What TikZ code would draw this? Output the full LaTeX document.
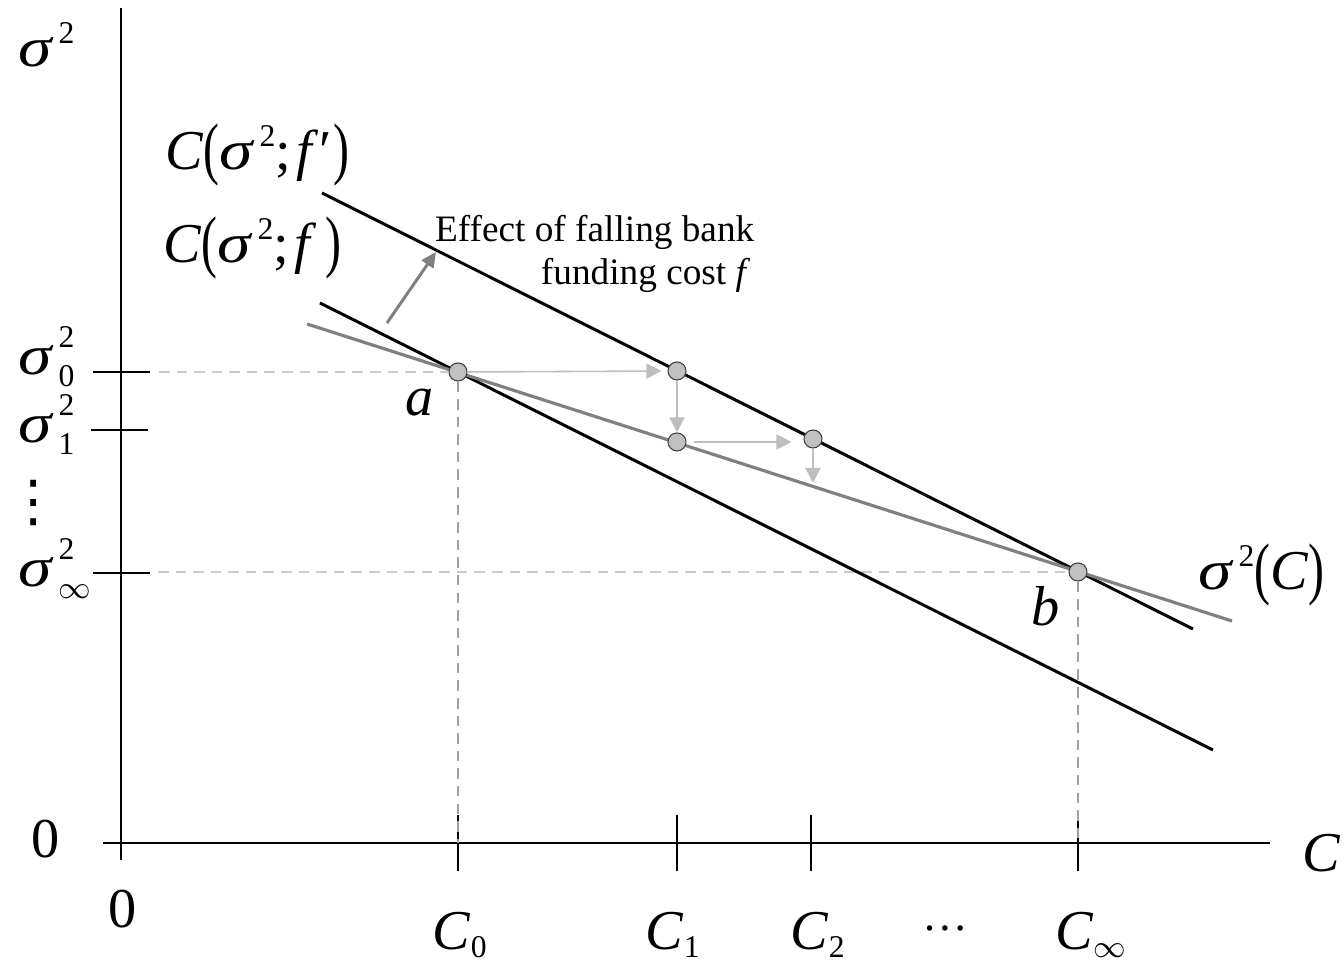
\documentclass[tikz,border=0pt]{standalone}
\usepackage{fontspec}
\setmainfont{Liberation Serif}
\newfontfamily\dejavu{DejaVu Sans}
\usetikzlibrary{arrows.meta}
\definecolor{gline}{HTML}{808080}
\definecolor{ptfill}{HTML}{C0C0C0}
\definecolor{lightarr}{HTML}{BEBEBE}
\definecolor{dashlight}{HTML}{CACACA}
\definecolor{dashdark}{HTML}{A0A0A0}
\definecolor{darkarr}{HTML}{7F7F7F}
\newcommand\mi[1]{\textit{#1}}
\newcommand\sig{\scalebox{1.2}[1]{\textit{σ}}\kern1.3pt}
\newcommand\sm[1]{{\fontsize{9}{9.5}\selectfont #1}}
\newcommand\SupSub[2]{\makebox[0pt][l]{\raisebox{7.7pt}{\sm{#1}}}\raisebox{-3.4pt}{\sm{#2}}}
\newcommand\Sup[1]{\raisebox{6.8pt}{\sm{#1}}}
\newcommand\Sub[1]{\raisebox{-2pt}{\sm{#1}}}
\newcommand\bp[1]{\raisebox{-0.5pt}{\scalebox{0.85}[1.22]{#1}}}
\pgfdeclarelayer{bg}
\pgfsetlayers{bg,main}
\begin{document}
\begin{tikzpicture}[x=0.01cm,y=-0.01cm,
  axisline/.style={line width=0.75pt,black},
  tickline/.style={line width=0.75pt,black},
  blackcurve/.style={line width=0.85pt,black},
  graycurve/.style={line width=0.9pt,draw=gline},
  guidelight/.style={line width=0.35pt,draw=dashlight,dash pattern=on 3pt off 2pt},
  guidedark/.style={line width=0.35pt,draw=dashdark,dash pattern=on 3pt off 2pt},
  pt/.style={circle,draw=black!75,fill=ptfill,line width=0.3pt,minimum size=0.18cm,inner sep=0pt},
  movearrow/.style={line width=0.45pt,draw=lightarr,-{Triangle[length=4.3pt,width=4.3pt]}},
  effectarrow/.style={line width=0.85pt,draw=darkarr,-{Triangle[length=4.3pt,width=4pt]}},
  biglbl/.style={font=\fontsize{16}{19}\selectfont,inner sep=0pt},
  txtlbl/.style={font=\fontsize{10.6}{12.5}\selectfont,inner sep=0pt}
]
\useasboundingbox (0,0) rectangle (1344,962);

% points
\node[pt] (a)  at (458,372) {};
\node[pt] (p1) at (677,371) {};
\node[pt] (q1) at (677,442) {};
\node[pt] (p2) at (813,439) {};
\node[pt] (b)  at (1078,572) {};

% coordinates
\coordinate (yaxT) at (121,8);
\coordinate (yaxB) at (121,860);
\coordinate (xaxL) at (103,843);
\coordinate (xaxR) at (1270,843);
\coordinate (fpS) at (322,193);
\coordinate (fpE) at (1193,629);
\coordinate (fS) at (320,303);
\coordinate (fE) at (1213,750);
\coordinate (gS) at (307,324);
\coordinate (gE) at (1232,621);
\coordinate (sig0) at (159,372);
\coordinate (sigInf) at (158,572);
\coordinate (c0) at (458,843);
\coordinate (cInf) at (1078,843);
\coordinate (p2end) at (813,483);
\coordinate (effS) at (387,323);
\coordinate (effE) at (436,252);

\begin{pgfonlayer}{bg}
% axes
\draw[axisline] (yaxT) -- (yaxB);
\draw[axisline] (xaxL) -- (xaxR);
% y ticks
\draw[tickline] (93,372) -- (150,372);
\draw[tickline] (91,430) -- (148,430);
\draw[tickline] (93,573) -- (150,573);
% x ticks
\foreach \xx in {458,677,811,1078}
  \draw[tickline] (\xx,815) -- (\xx,871);
% guides
\draw[guidelight] (sig0) -- (a.west);
\draw[guidedark] (a.south) -- (c0);
\draw[guidelight] (sigInf) -- (b.west);
\draw[guidedark] (b.south) -- (cInf);
% curves
\draw[blackcurve] (fpS) -- (fpE);
\draw[blackcurve] (fS) -- (fE);
\draw[graycurve] (gS) -- (gE);
\end{pgfonlayer}

% movement arrows
\draw[movearrow,shorten >=1.7pt] (a.east) -- (p1.west);
\draw[movearrow] (p1.south) -- (q1.north);
\draw[movearrow,shorten <=2pt,shorten >=3.4pt] (q1.east) -- (q1.east -| p2.west);
\draw[movearrow] (p2.south) -- (p2end);
\draw[effectarrow] (effS) -- (effE);

% axis labels
\node[biglbl,anchor=base west] (ylab) at (18,67) {\sig\Sup{2}};
\node[biglbl,anchor=base] (zeroy) at (46,858) {0};
\node[biglbl,anchor=base] (zerox) at (123,928) {0};
\node[biglbl,anchor=base] (xlab) at (1322,872) {\mi{C}};
\node[biglbl,anchor=base west] (s0) at (18,375) {\sig\SupSub{2}{0}};
\node[biglbl,anchor=base west] (s1) at (18,443) {\sig\SupSub{2}{1}};
\node[biglbl] (sdots) at (34,503) {\dejavu ⋮};
\node[biglbl,anchor=base west] (sinf) at (18,587) {\sig\SupSub{2}{$\infty$}};
\node[biglbl,anchor=base west] (C0) at (432,950) {\mi{C}\Sub{0}};
\node[biglbl,anchor=base west] (C1) at (645,950) {\mi{C}\Sub{1}};
\node[biglbl,anchor=base west] (C2) at (790,950) {\mi{C}\Sub{2}};
\node[biglbl,anchor=base,font=\fontsize{13}{15}\selectfont] (Cdots) at (945,931) {…};
\node[biglbl,anchor=base west] (Cinf) at (1055,950) {\mi{C}\Sub{$\infty$}};

% curve labels
\node[biglbl,anchor=base west] (lfp) at (165,170) {\mi{C}\bp{(}\sig\Sup{2};\kern1.5pt\mi{f}\kern0.3pt′\kern0.5pt\bp{)}};
\node[biglbl,anchor=base west] (lf) at (163,263) {\mi{C}\bp{(}\sig\Sup{2};\kern1.5pt\mi{f}\kern2.5pt\bp{)}};
\node[biglbl] (la) at (420,403) {\mi{a}};
\node[biglbl] (lb) at (1046,606) {\mi{b}};
\node[biglbl,anchor=base west] (lg) at (1198,590) {\sig\Sup{2}\bp{(}\mi{C}\bp{)}};

\node[txtlbl,anchor=base east] (eff1) at (755,242) {Effect of falling bank};
\node[txtlbl,anchor=base east] (eff2) at (751,285) {funding cost \textit{f}};
\end{tikzpicture}
\end{document}
